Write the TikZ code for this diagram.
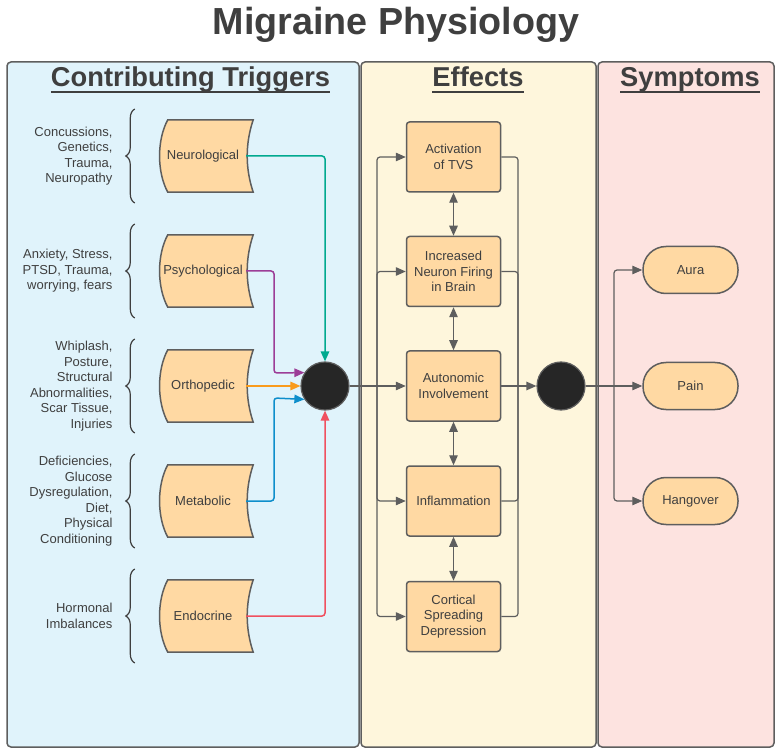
\documentclass[tikz,border=0pt]{standalone}
\usepackage{fontspec}
\setmainfont{Liberation Sans}
\usetikzlibrary{arrows.meta,decorations.pathreplacing}
\definecolor{txtGray}{HTML}{3F3F3F}
\definecolor{lineGray}{HTML}{5E5E5E}
\definecolor{peach}{HTML}{FFD9A3}
\definecolor{blueBg}{HTML}{E0F3FB}
\definecolor{yellowBg}{HTML}{FEF6DC}
\definecolor{pinkBg}{HTML}{FDE3E0}
\definecolor{juncFill}{HTML}{262626}
\definecolor{neuroCol}{HTML}{00A98F}
\definecolor{psychCol}{HTML}{9C3D97}
\definecolor{orthoCol}{HTML}{F99B1C}
\definecolor{metaCol}{HTML}{0E8ECB}
\definecolor{endoCol}{HTML}{F0505F}
\pgfdeclarelayer{bg}
\pgfdeclarelayer{mid}
\pgfsetlayers{bg,mid,main}

\begin{document}
\begin{tikzpicture}[x=1pt,y=-1pt,
    panel/.style={draw=lineGray,line width=1.5pt,rounded corners=4pt},
    header/.style={font=\bfseries\fontsize{27.3}{30}\selectfont,text=txtGray,inner sep=0pt,anchor=base},
    causeText/.style={font=\fontsize{13}{15.5}\selectfont,text=txtGray,align=right,anchor=east},
    trigNode/.style={minimum width=86pt,minimum height=72pt,inner sep=0pt,
                     font=\fontsize{13}{15.5}\selectfont,text=txtGray},
    trigShape/.style={draw=lineGray,fill=peach,line width=1.5pt},
    effectNode/.style={draw=lineGray,fill=peach,line width=1.5pt,rounded corners=3pt,
                       minimum width=94pt,minimum height=70pt,inner sep=2pt,align=center,
                       font=\fontsize{13}{15.5}\selectfont,text=txtGray},
    symptomNode/.style={draw=lineGray,fill=peach,line width=1.5pt,rounded corners=23pt,
                        minimum width=95pt,minimum height=47pt,inner sep=2pt,
                        font=\fontsize{13}{15.5}\selectfont,text=txtGray},
    juncNode/.style={circle,draw=lineGray,fill=juncFill,line width=1.2pt,minimum size=48pt,inner sep=0pt},
    flow/.style={draw=lineGray,line width=1.2pt,rounded corners=3pt},
    flowArrow/.style={-{Triangle[length=10pt,width=8.5pt]}},
    dblArrow/.style={{Triangle[length=10pt,width=8.5pt]}-{Triangle[length=10pt,width=8.5pt]}},
    brc/.style={draw=txtGray,line width=1.2pt,decorate,decoration={brace,amplitude=9pt}}]
  \useasboundingbox (0,0) rectangle (780,754);
  \begin{pgfonlayer}{bg}
    \fill[white] (0,0) rectangle (780,754);
    \draw[panel,fill=blueBg] (7,62) rectangle (359,747);
    \draw[panel,fill=yellowBg] (361,62) rectangle (596,747);
    \draw[panel,fill=pinkBg] (598,62) rectangle (774,747);
  \end{pgfonlayer}

  \node[font=\bfseries\fontsize{37.7}{40}\selectfont,text=txtGray,anchor=base] (title) at (396,35) {Migraine Physiology};
  \node[header] (h1) at (190.5,87) {Contributing Triggers};
  \node[header] (h2) at (478,87) {Effects};
  \node[header] (h3) at (690,87) {Symptoms};
  \foreach \h in {h1,h2,h3}
    \draw[txtGray,line width=2pt] ([yshift=-5pt]\h.base west) -- ([yshift=-5pt]\h.base east);

  \node[causeText] (c1) at (116,156) {Concussions,\\Genetics,\\Trauma,\\Neuropathy};
  \node[causeText] (c2) at (116,271) {Anxiety, Stress,\\PTSD, Trauma,\\worrying, fears};
  \node[causeText] (c3) at (116,386) {Whiplash,\\Posture,\\Structural\\Abnormalities,\\Scar Tissue,\\Injuries};
  \node[causeText] (c4) at (116,501) {Deficiencies,\\Glucose\\Dysregulation,\\Diet,\\Physical\\Conditioning};
  \node[causeText] (c5) at (116,616) {Hormonal\\Imbalances};

  \node[trigNode] (t1) at (203,156) {Neurological};
  \node[trigNode] (t2) at (203,271) {Psychological};
  \node[trigNode] (t3) at (203,386) {Orthopedic};
  \node[trigNode] (t4) at (203,501) {Metabolic};
  \node[trigNode] (t5) at (203,616) {Endocrine};

  \begin{pgfonlayer}{mid}
    \foreach \t in {t1,t2,t3,t4,t5}{
      \draw[trigShape] ([xshift=8pt]\t.north west) -- ([xshift=7pt]\t.north east)
        .. controls ([xshift=-1pt,yshift=-24pt]\t.north east) and ([xshift=-1pt,yshift=24pt]\t.south east)
        .. ([xshift=7pt]\t.south east) -- ([xshift=8pt]\t.south west)
        .. controls ([xshift=-3pt,yshift=20pt]\t.south west) and ([xshift=-3pt,yshift=-20pt]\t.north west)
        .. cycle;
      \draw[brc] ([xshift=-25pt,yshift=-47pt]\t.west) -- ([xshift=-25pt,yshift=47pt]\t.west);
    }
  \end{pgfonlayer}

  \node[juncNode] (j1) at (325,386) {};
  \node[juncNode] (j2) at (561,386) {};

  \node[effectNode] (e1) at (453.5,157) {Activation\\of TVS};
  \node[effectNode] (e2) at (453.5,271.5) {Increased\\Neuron Firing\\in Brain};
  \node[effectNode] (e3) at (453.5,386) {Autonomic\\Involvement};
  \node[effectNode] (e4) at (453.5,501) {Inflammation};
  \node[effectNode] (e5) at (453.5,616.5) {Cortical\\Spreading\\Depression};

  \node[symptomNode] (s1) at (690.5,270) {Aura};
  \node[symptomNode] (s2) at (690.5,386) {Pain};
  \node[symptomNode] (s3) at (690.5,501) {Hangover};

  \coordinate (pBend) at (274,373);
  \coordinate (bBend) at (274,398);
  \coordinate (lBus) at (377,386);
  \coordinate (rBus) at (518,386);
  \coordinate (sBus) at (614,386);

  \draw[flow,flowArrow,draw=neuroCol,line width=1.5pt] (t1.east) -| (j1.north);
  \draw[flow,flowArrow,draw=psychCol,line width=1.5pt] (t2.east) -| (pBend) -- (j1.147);
  \draw[flow,flowArrow,draw=orthoCol,line width=1.5pt] (t3.east) -- (j1.west);
  \draw[flow,flowArrow,draw=metaCol,line width=1.5pt] (t4.east) -| (bBend) -- (j1.213);
  \draw[flow,flowArrow,draw=endoCol,line width=1.5pt] (t5.east) -| (j1.south);

  \draw[flow] (j1.east) -- (lBus);
  \draw[flow,flowArrow] (lBus) |- (e1.west);
  \draw[flow,flowArrow] (lBus) |- (e2.west);
  \draw[flow,flowArrow] (lBus) -- (e3.west);
  \draw[flow,flowArrow] (lBus) |- (e4.west);
  \draw[flow,flowArrow] (lBus) |- (e5.west);

  \draw[flow] (e1.east) -| (rBus);
  \draw[flow] (e2.east) -| (rBus);
  \draw[flow] (e4.east) -| (rBus);
  \draw[flow] (e5.east) -| (rBus);
  \draw[flow,flowArrow] (e3.east) -- (j2.west);

  \draw[flow,dblArrow] (e1) -- (e2);
  \draw[flow,dblArrow] (e2) -- (e3);
  \draw[flow,dblArrow] (e3) -- (e4);
  \draw[flow,dblArrow] (e4) -- (e5);

  \draw[flow] (j2.east) -- (sBus);
  \draw[flow,flowArrow] (sBus) |- (s1.west);
  \draw[flow,flowArrow] (sBus) -- (s2.west);
  \draw[flow,flowArrow] (sBus) |- (s3.west);
\end{tikzpicture}
\end{document}
